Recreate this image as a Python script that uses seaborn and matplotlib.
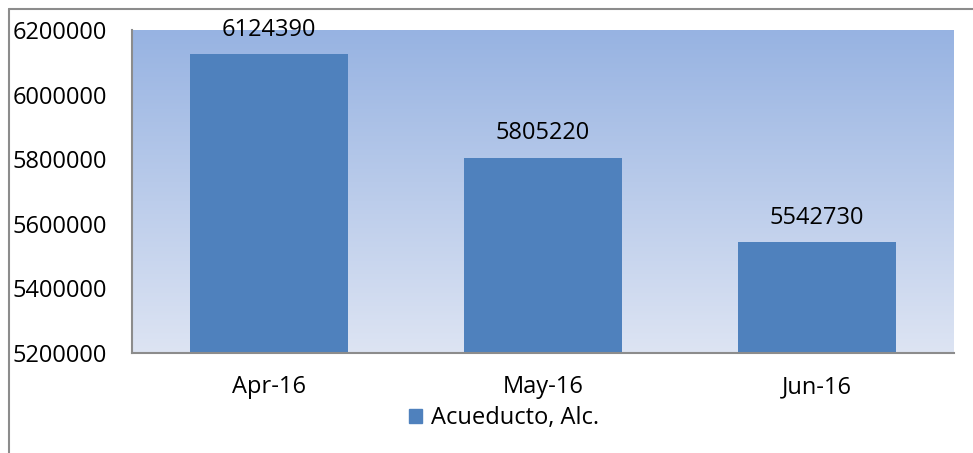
import numpy as np
import pandas as pd
import matplotlib
matplotlib.use("Agg")
import matplotlib.pyplot as plt
from matplotlib.lines import Line2D
from matplotlib.colors import LinearSegmentedColormap
import seaborn as sns

categories = ["Apr-16", "May-16", "Jun-16"]
values = [6124390, 5805220, 5542730]
series_name = "Acueducto, Alc."
yticks = [5200000, 5400000, 5600000, 5800000, 6000000, 6200000]

sns.set_style("white")
plt.rcParams["font.family"] = ["Open Sans", "DejaVu Sans"]
plt.rcParams["text.color"] = "black"
plt.rcParams["xtick.color"] = "black"
plt.rcParams["ytick.color"] = "black"

df = pd.DataFrame({"month": categories, "value": values, "series": series_name})

W, H = 973, 453
fig = plt.figure(figsize=(W / 100, H / 100), dpi=100)
ax = fig.add_axes([132 / W, 1 - 353 / H, (954 - 132) / W, (353 - 30) / H])

# gradient background
cmap = LinearSegmentedColormap.from_list("bg", ["#dde4f3", "#97b3e2"])
grad = np.linspace(0, 1, 256).reshape(-1, 1)
ax.imshow(grad, cmap=cmap, aspect="auto", extent=[0, 1, 0, 1],
          transform=ax.transAxes, origin="lower", zorder=0)

sns.barplot(data=df, x="month", y="value", hue="series", palette=["#4f81bd"],
            width=0.573, ax=ax, zorder=2, saturation=1, legend=True, linewidth=0)

ax.set_ylim(5200000, 6200000)
ax.set_xlim(-0.5, 2.5)
ax.set_yticks(yticks)
ax.set_yticklabels([str(v) for v in yticks], fontsize=17)
ax.tick_params(axis="y", length=0, pad=18)
ax.tick_params(axis="x", length=0, pad=16, labelsize=17)
ax.set_xlabel("")
ax.set_ylabel("")

for s in ["top", "right"]:
    ax.spines[s].set_visible(False)
for s in ["left", "bottom"]:
    ax.spines[s].set_color("#8c8c8c")
    ax.spines[s].set_linewidth(1.5)

for i, v in enumerate(values):
    ax.annotate(str(v), (i, v), xytext=(0, 9), textcoords="offset points",
                ha="center", va="bottom", fontsize=17, color="black")

ax.get_legend().remove()
handles = [plt.Rectangle((0, 0), 1, 1, color="#4f81bd")]
fig.legend(handles, [series_name], loc="center", bbox_to_anchor=(504 / W, 1 - 418 / H),
           frameon=False, fontsize=17, handlelength=0.55, handleheight=0.55,
           handletextpad=0.35)

# outer frame lines
fig.add_artist(Line2D([9 / W, 1], [1 - 8.5 / H, 1 - 8.5 / H], color="#8c8c8c", lw=1.5,
                      transform=fig.transFigure))
fig.add_artist(Line2D([9 / W, 9 / W], [0, 1 - 8.5 / H], color="#8c8c8c", lw=1.5,
                      transform=fig.transFigure))

fig.savefig("out.png", dpi=100)
